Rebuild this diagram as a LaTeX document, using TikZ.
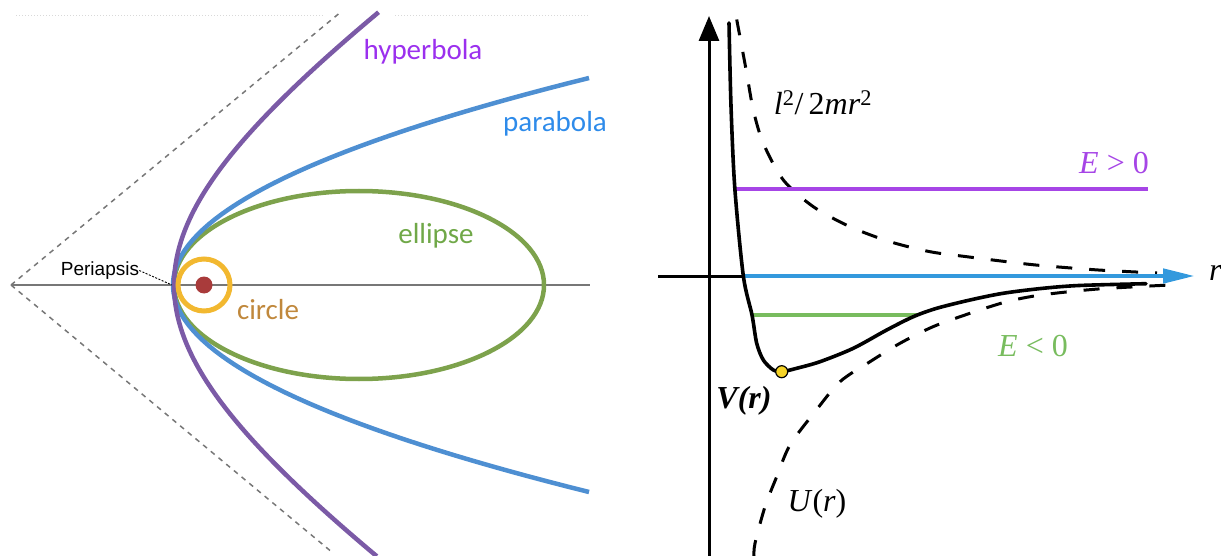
\documentclass[tikz,border=0pt]{standalone}
\usepackage{fontspec}
\setmainfont{Liberation Serif}
\newfontfamily\calibri{Carlito}
\newfontfamily\arialf{Liberation Sans}
\usetikzlibrary{arrows.meta}
\definecolor{hypline}{HTML}{7B5AA6}
\definecolor{hyptext}{HTML}{9B30EE}
\definecolor{parline}{HTML}{4E8FD2}
\definecolor{partext}{HTML}{2E8BEA}
\definecolor{elline}{HTML}{7DA24C}
\definecolor{eltext}{HTML}{70A848}
\definecolor{circline}{HTML}{F2B830}
\definecolor{circtext}{HTML}{C0883C}
\definecolor{dotred}{HTML}{A93B3B}
\definecolor{axisgray}{HTML}{777777}
\definecolor{epos}{HTML}{A645E6}
\definecolor{eneg}{HTML}{78BC5E}
\definecolor{ezero}{HTML}{3399DD}
\definecolor{minyel}{HTML}{F5D327}
\begin{document}
\begin{tikzpicture}[x=1pt,y=-1pt,
  lbl/.style={font=\calibri\fontsize{29}{34}\selectfont, inner sep=0pt},
  mathlbl/.style={font=\fontsize{32}{38}\selectfont, inner sep=0pt},
  orbit/.style={line width=4.5pt},
  asym/.style={axisgray, line width=1.5pt, dash pattern=on 5pt off 5pt},
  potdash/.style={line width=3pt, dash pattern=on 16pt off 17pt},
  level/.style={line width=4.5pt},
]
\useasboundingbox (0,0) rectangle (1221,556);
% ---------------- left panel: orbits ----------------
\draw[black!15, line width=1pt, dotted] (16,16) -- (324,16) (395,16) -- (589,16);
\draw[axisgray, line width=1.2pt] (11,285) -- (590,285);
\coordinate (apex) at (11,285);
\coordinate (asymtop) at (339,13.5);
\coordinate (asymbot) at (333,553);
\draw[asym] (apex) -- (asymtop);
\draw[asym] (apex) -- (asymbot);
% ellipse
\draw[orbit, elline] (359,285) ellipse [x radius=185pt, y radius=94pt];
% parabola
\draw[orbit, parline] plot[domain=-207:207, samples=80, variable=\s]
  ({173 + (\s/10)*(\s/10)*0.97087}, {285 + \s});
% hyperbola
\draw[orbit, hypline] plot[domain=-1.11:1.106, samples=80, variable=\t]
  ({-126 + 300*cosh(\t)}, {285 + 201.7*sinh(\t)});
% circle and focus
\draw[circline, line width=5pt] (204,285) circle [radius=26pt];
\fill[dotred] (204,285) circle [radius=8.5pt];
% labels
\node[lbl, text=hyptext] (hyp) at (423,52) {hyperbola};
\node[lbl, text=partext] (par) at (555,124) {parabola};
\node[lbl, text=eltext] (ell) at (436,236) {ellipse};
\node[lbl, text=circtext] (circ) at (268,310) {circle};
\node[font=\arialf\fontsize{19}{22}\selectfont, inner sep=0pt] (peri) at (100,270.5) {Periapsis};
\coordinate (pv) at (172,285);
\draw[line width=0.9pt, dash pattern=on 2pt off 1.5pt] (peri.east) -- (pv);
% ---------------- right panel: effective potential ----------------
\coordinate (ybot) at (709,556);
\coordinate (ytop) at (709,16);
\draw[line width=3pt, -{Triangle[length=25pt,width=20pt]}] (ybot) -- (ytop);
% potentials (dashed)
\draw[potdash] plot[smooth] coordinates {(736.7,19.5) (746.3,70.9) (753.3,110) (763.3,143.3) (783.3,180) (813.3,206.7) (850,226.7) (890,241.7) (930,251.7) (966.7,256.7) (1006.7,261.7) (1041,265.5) (1098.4,270) (1157,273)};
\draw[potdash] plot[smooth] coordinates {(754,556) (755,543.3) (765,506.7) (776.7,476.7) (790,445) (815,411.7) (840,381.7) (870,361.7) (900,343.3) (933,326.7) (970,313.3) (1006.7,301.7) (1041,295) (1098,289) (1170,285)};
% energy levels
\coordinate (vcross) at (743.3,276);
\coordinate (xleft) at (658,276);
\coordinate (xtip) at (1195,276);
\draw[line width=3pt] (xleft) -- (vcross);
\draw[ezero, line width=4.5pt, -{Triangle[length=32pt,width=14pt]}] (vcross) -- (xtip);
\coordinate (pl) at (735.5,189);
\coordinate (pr) at (1148,189);
\draw[level, epos] (pl) -- (pr);
\coordinate (gl) at (752,315);
\coordinate (gr) at (917,315);
\draw[level, eneg, line width=4pt] (gl) -- (gr);
% effective potential V(r)
\draw[line width=3.6pt, line cap=round] plot[smooth] coordinates {(729,23) (731,106) (734.8,188) (743.3,275.7) (752,315) (756.7,343.3) (763.3,360) (773.3,370) (781.7,371.7) (796.7,368.3) (820,361.7) (853.3,348.3) (886.7,330) (913.3,316.7) (936.7,308.3) (970,300) (1003,293.3) (1041,288.5) (1079,285.5) (1146,283.7)};
\filldraw[fill=minyel, draw=black, line width=1.2pt] (781.7,371.7) circle [radius=6pt] coordinate (vmin);
% labels
\node[mathlbl] (l2) at (823,103) {\textit{l}\textsuperscript{2}/\,2\textit{mr}\textsuperscript{2}};
\node[mathlbl, text=epos] (egt) at (1114,163) {\textit{E} > 0};
\node[mathlbl, text=eneg] (elt) at (1033,346) {\textit{E} < 0};
\node[mathlbl, font=\bfseries\itshape\fontsize{32}{38}\selectfont] (vr) at (744,401) {V(r)};
\node[mathlbl] (ur) at (817,504) {\textit{U}(\textit{r})};
\node[mathlbl, anchor=west] (rlab) at (1209,273) {\textit{r}};
\end{tikzpicture}
\end{document}
